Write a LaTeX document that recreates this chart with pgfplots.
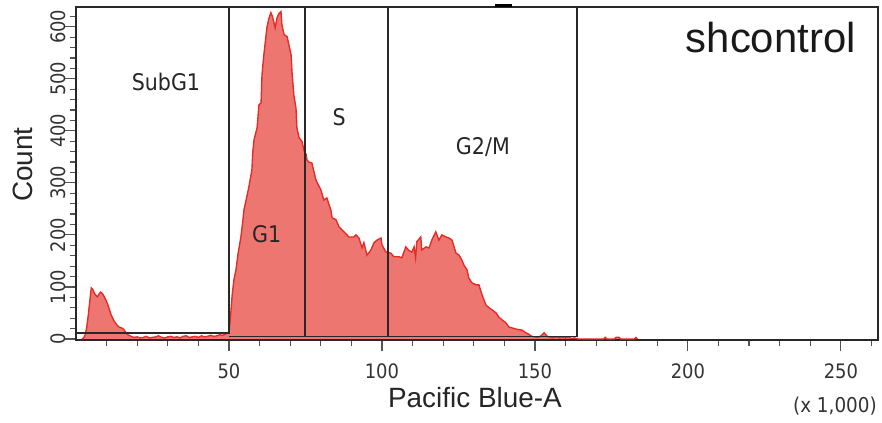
\documentclass[border=0pt]{standalone}
\usepackage{pgfplots}
\pgfplotsset{compat=1.18}
\usepackage{fontspec}
\setmainfont{Liberation Sans}
\newfontfamily\tfont{DejaVu Sans Condensed}
\definecolor{histfill}{RGB}{238,118,112}
\definecolor{histline}{RGB}{228,45,40}
\definecolor{gate}{RGB}{40,40,40}
\pgfplotstableread{
x y
2.0 0
2.5 2
3.0 8
3.5 22
4.0 45
4.5 72
5.0 98
5.5 95
6.0 88
6.5 84
7.0 81
7.5 86
8.0 90
8.5 88
9.0 84
9.5 78
10.0 72
10.5 64
11.0 55
11.5 46
12.0 40
12.5 34
13.0 30
13.5 26
14.0 23
14.5 22
15.0 21
15.5 19
16.0 15
16.5 11
17.0 8
18 5
19 3
20 4
21 2
22 3
23 5
24 2
25 3
26 4
27 6
28 3
29 2
30 4
31 5
32 3
33 4
34 2
35 5
36 6
37 3
38 4
39 5
40 3
41 6
42 4
43 5
44 7
45 5
46 6
47 8
48 7
49 10
49.5 12
50.0 13
50.3 30
50.6 50
51.0 81
51.6 113
52.3 133
53.0 165
53.9 196
54.5 225
54.9 248
55.6 267
56.5 292
57.5 325
57.8 360
58.2 383
59.2 406
59.8 450
60.5 454
60.8 508
61.4 546
62.4 598
63.0 615
63.7 627
64.2 620
64.7 608
65.1 598
65.7 617
66.3 625
67.0 629
67.3 604
68.0 585
69.0 581
69.6 565
70.3 546
70.6 513
71.2 469
71.9 444
72.2 406
72.9 387
73.9 379
74.5 363
75.2 355
75.5 344
76.1 340
77.1 338
78.4 306
79.2 296
80.0 287
81.0 267
82.0 271
83.3 248
83.7 233
85.0 229
86.0 215
87.6 206
89.2 196
90.8 196
91.5 200
92.5 194
93.5 175
94.1 185
95.1 161
96.4 171
97.4 185
98.4 190
99.7 194
100.0 181
101.3 167
102.9 165
103.9 158
105.6 158
106.5 156
107.8 177
108.8 170
109.8 167
110.5 177
111.0 156
111.4 187
112.7 196
113.0 171
114.4 177
115.4 175
116.3 190
117.6 206
118.6 190
119.6 200
120.9 196
121.9 194
122.9 190
124.2 165
125.2 161
126.1 152
126.8 142
127.8 133
128.4 117
129.4 108
130.7 104
131.7 104
132.7 85
134.0 65
135.0 60
136.0 56
137.3 50
138.2 42
139.2 37
140.5 31
141.5 23
143.8 19
145.8 17
147.0 12
148.0 9
149 5
150 4
151 3
152 6
153 12
154 5
155 3
156 2
157 4
158 2
159 3
160 2
161 3
162 1
163 2
164 0
172.5 0
173 3
173.5 0
176 0
176.5 3
177.5 3
178 0
182.5 0
183 3
183.5 0
}\hist
\begin{document}
\begin{tikzpicture}
\path[use as bounding box] (-76bp,-83bp) rectangle (806bp,340bp);
\begin{axis}[
  at={(0,0)}, anchor=south west,
  scale only axis, width=802bp, height=333bp,
  xmin=0, xmax=262.144, ymin=-2, ymax=638,
  axis line style={line width=1.6bp, gate},
  clip=false,
  tick align=outside,
  xtick pos=bottom, ytick pos=left,
  xtick={50,100,150,200,250},
  ytick={0,100,...,600},
  minor xtick={10,20,...,260},
  minor ytick={20,40,...,620},
  major tick length=11bp, minor tick length=6bp,
  every tick/.style={line width=1.2bp, gate!80},
  /pgf/number format/assume math mode=true,
  ticklabel style={font=\tfont\fontsize{20}{20}\selectfont, text=black!80},
  yticklabel style={rotate=90, anchor=south},
  yticklabel shift=-4bp,
  xticklabel shift=9bp,
]
\addplot[draw=none, fill=histfill] table[x=x,y=y] {\hist} \closedcycle;
\addplot[histline, line width=1.4bp] table[x=x,y=y] {\hist};
\addplot[gate, line width=1.6bp] coordinates {(0,12)(50,12)(50,638)};
\addplot[gate, line width=1.6bp] coordinates {(50,5)(163.7,5)(163.7,638)};
\addplot[gate, line width=1.6bp] coordinates {(74.8,5)(74.8,638)};
\addplot[gate, line width=1.6bp] coordinates {(102,5)(102,638)};
\addplot[black, line width=3bp] coordinates {(137,641.5)(142.5,641.5)};
\node[font=\tfont\fontsize{23}{23}\selectfont, text=black!85] at (axis cs:29.4,494) {SubG1};
\node[font=\tfont\fontsize{23}{23}\selectfont, text=black!85] at (axis cs:62.3,202) {G1};
\node[font=\tfont\fontsize{23}{23}\selectfont, text=black!85] at (axis cs:86,427) {S};
\node[font=\tfont\fontsize{23}{23}\selectfont, text=black!85] at (axis cs:133,369) {G2/M};
\node[font=\fontsize{28}{28}\selectfont, rotate=90, text=black!85] at (axis cs:-17.3,335) {Count};
\node[font=\fontsize{28}{28}\selectfont, anchor=base, text=black!85] at (axis cs:130.4,-131) {Pacific Blue-A};
\node[font=\tfont\fontsize{20.5}{20.5}\selectfont, anchor=base east, text=black!80, inner sep=0pt] at (axis cs:261.8,-142) {(x 1,000)};
\node[font=\fontsize{42}{42}\selectfont, anchor=base east, text=black!90, inner sep=0pt] at (axis cs:254.9,550) {shcontrol};
\end{axis}
\end{tikzpicture}
\end{document}
